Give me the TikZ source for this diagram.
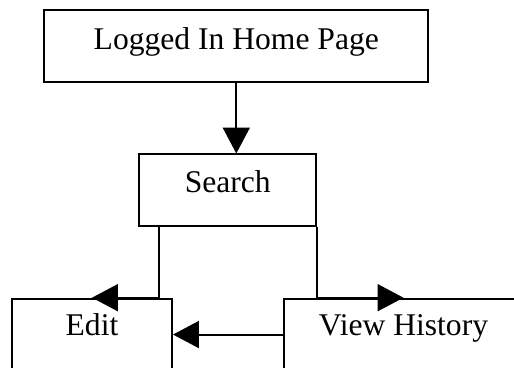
\documentclass[tikz,border=0pt]{standalone}
\usepackage{fontspec}
\setmainfont{Liberation Serif}
\usetikzlibrary{arrows.meta}
\begin{document}
\begin{tikzpicture}[x=0.5pt,y=-0.5pt,
  box/.style={draw,line width=1pt,inner sep=0pt,anchor=north,
    font=\fontsize{15.8pt}{18pt}\selectfont},
  link/.style={line width=1pt,-{Triangle[length=12.9pt,width=13.4pt]}}]
\useasboundingbox (0,0) rectangle (514,368);
\clip (0,0) rectangle (514,368);
% page boxes
\node[box,minimum width=192.15pt,text height=19.85pt,text depth=16pt]
  (home) at (236.3,9.3) {Logged In Home Page};
\node[box,minimum width=88.5pt,text height=19.1pt,text depth=16.8pt]
  (search) at (227.8,153.5) {Search};
\node[box,minimum width=80pt,text height=18.65pt,text depth=17.2pt]
  (edit) at (92,297.7) {Edit};
\node[box,minimum width=119.8pt,text height=18.65pt,text depth=17.2pt]
  (hist) at (403.5,297.7) {View History};
% connectors
\coordinate (sl) at ([xshift=10.35pt]search.south west);
\draw[link] (home.south) -- (home.south |- search.north);
\draw[link] (sl) -- (sl |- edit.north) -- (edit.north);
\draw[link] (search.south east) -- (search.south east |- hist.north) -- (hist.north);
\draw[link] (hist.west) -- (edit.east);
\end{tikzpicture}
\end{document}
